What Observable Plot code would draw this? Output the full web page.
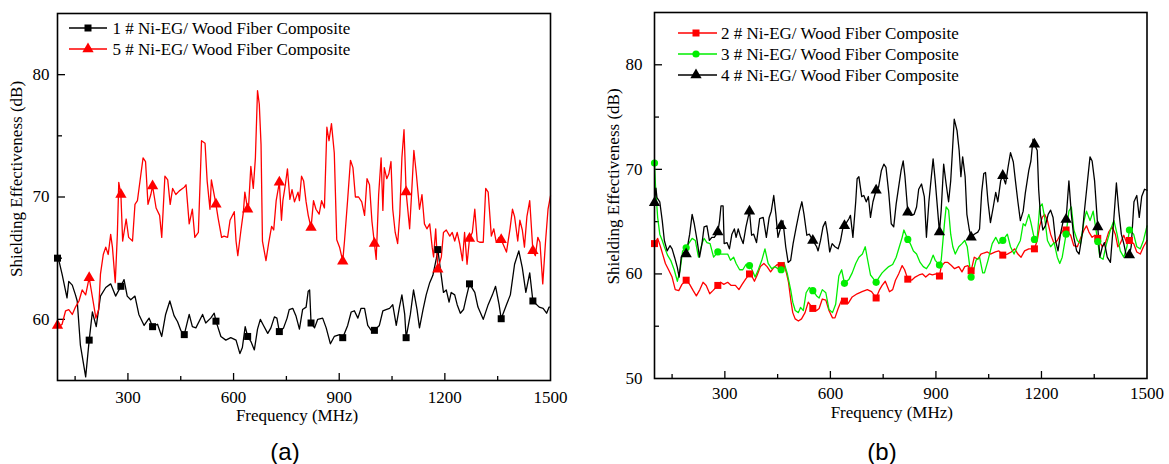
<!DOCTYPE html>
<html><head><meta charset="utf-8">
<script src="https://cdn.jsdelivr.net/npm/d3@7"></script>
<script src="https://cdn.jsdelivr.net/npm/@observablehq/plot@0.6"></script>
<style>
body{margin:0;background:#fff;}
#wrap{position:relative;width:1169px;height:464px;overflow:hidden;background:#fff;font-family:"Liberation Serif","Times New Roman",serif;}
.panel{position:absolute;top:0;}
.panel svg, .panel text, #overlay text.serif{font-family:"Liberation Serif","Times New Roman",serif !important;}
#overlay{position:absolute;left:0;top:0;pointer-events:none;}
</style></head><body><div id="wrap"></div>
<script>
// ---------- data ----------
const markerFreq = [100,190,280,370,460,550,640,730,820,910,1000,1090,1180,1270,1360,1450];
const xTickLabels = [300,600,900,1200,1500];
const xMinorTicks = [150,450,750,1050,1350];
const seriesNames = ["1 # Ni-EG/ Wood Fiber Composite","5 # Ni-EG/ Wood Fiber Composite",
  "2 # Ni-EG/ Wood Fiber Composite","3 # Ni-EG/ Wood Fiber Composite","4 # Ni-EG/ Wood Fiber Composite"];

// sample 1 (panel a, black squares): [frequency MHz, SE dB]
const sample1 = [[100,65.0],[104,64.8],[113,63.7],[127,61.75],[132,63.1],[142,62.8],[151,62.0],[156,61.5],[165,57.9],[180,55.3],[190,58.3],[199,60.6],[210,59.4],[222,61.9],[237,62.6],[251,62.9],[265,61.9],[280,62.7],[289,63.25],[298,61.9],[308,61.6],[320,61.9],[331,60.4],[346,59.5],[360,60.1],[370,59.4],[384,59.6],[396,58.6],[407,60.4],[419,61.5],[431,60.3],[441,59.8],[450,59.1],[460,58.75],[474,60.4],[483,59.4],[493,59.3],[512,60.4],[521,59.7],[535,60.1],[545,60.5],[550,59.85],[564,58.6],[578,58.3],[592,58.5],[607,58.3],[618,57.2],[625,57.7],[633,59.4],[640,58.6],[649,58.2],[659,57.5],[668,59.2],[676,60.0],[685,59.5],[697,58.85],[706,59.3],[716,60.2],[723,60.1],[730,59.0],[742,59.3],[752,60.1],[758,60.8],[768,60.9],[777,60.3],[787,59.2],[796,60.8],[806,61.0],[812,62.3],[816,62.4],[820,59.7],[830,59.3],[839,60.0],[853,60.1],[863,59.3],[875,58.0],[886,58.6],[901,58.75],[910,58.5],[924,59.5],[934,60.6],[943,60.7],[953,60.1],[962,60.9],[972,60.9],[981,59.5],[991,59.1],[1000,59.1],[1014,59.5],[1024,60.7],[1033,60.8],[1043,60.9],[1052,61.2],[1062,59.5],[1071,61.0],[1078,62.0],[1086,60.4],[1090,58.5],[1102,60.4],[1111,62.4],[1121,60.8],[1128,59.3],[1138,60.8],[1147,62.0],[1157,63.0],[1166,63.6],[1176,65.0],[1180,65.7],[1196,62.2],[1204,62.4],[1212,61.4],[1218,62.2],[1228,62.0],[1235,61.2],[1244,60.5],[1253,60.8],[1260,61.7],[1270,62.9],[1285,62.2],[1294,61.0],[1309,60.0],[1323,61.2],[1335,62.0],[1344,62.7],[1354,61.2],[1360,60.05],[1375,61.2],[1386,62.0],[1398,64.5],[1410,65.6],[1420,64.2],[1430,62.2],[1441,63.8],[1450,61.5],[1468,61.0],[1479,60.9],[1489,60.5],[1496,61.0],[1500,61.0]];

// sample 5 (panel a, red triangles)
const sample5 = [[100,59.5],[104,59.4],[113,59.6],[123,60.7],[132,60.8],[142,60.4],[151,61.0],[161,61.5],[170,62.4],[180,62.0],[190,63.4],[201,61.5],[209,60.1],[217,60.8],[222,63.7],[230,65.3],[237,65.9],[244,65.3],[251,66.95],[256,65.9],[264,63.0],[270,66.95],[274,71.2],[280,70.2],[285,66.4],[295,68.2],[302,66.7],[313,66.4],[320,69.4],[327,69.7],[337,71.9],[343,73.2],[350,72.9],[357,69.4],[365,70.2],[370,70.9],[380,69.1],[390,68.5],[396,66.7],[405,71.7],[413,71.4],[420,69.4],[427,70.7],[436,70.2],[446,70.5],[455,70.7],[460,70.8],[465,71.0],[474,67.8],[483,69.0],[490,66.7],[500,67.1],[509,74.6],[519,74.4],[525,71.3],[533,69.0],[537,71.4],[550,69.4],[556,68.3],[566,66.7],[573,66.8],[583,66.7],[590,68.1],[602,68.8],[607,66.4],[612,65.2],[621,67.3],[628,68.8],[632,70.4],[640,69.0],[643,69.4],[649,72.5],[656,70.7],[662,73.2],[668,78.7],[673,77.6],[678,74.3],[682,66.4],[692,64.8],[700,66.3],[708,67.6],[714,67.3],[721,69.7],[730,71.2],[736,68.1],[740,69.7],[747,71.0],[753,72.3],[760,69.8],[766,70.6],[773,69.6],[783,70.4],[787,69.7],[793,71.7],[799,71.3],[806,69.6],[812,68.5],[820,67.5],[827,69.7],[834,69.0],[843,68.6],[850,69.7],[858,69.1],[865,75.7],[871,74.6],[878,76.0],[886,73.6],[893,66.5],[901,65.9],[910,64.75],[915,66.4],[924,69.8],[932,73.0],[939,72.4],[946,70.0],[955,70.0],[964,69.6],[972,68.5],[979,71.5],[986,71.0],[993,68.0],[1000,66.2],[1005,64.9],[1012,70.2],[1019,73.2],[1024,68.9],[1028,72.4],[1035,71.5],[1041,71.9],[1047,72.9],[1052,69.0],[1059,67.1],[1066,66.2],[1072,68.6],[1078,73.2],[1084,75.5],[1087,73.0],[1090,70.4],[1100,67.4],[1106,70.5],[1112,73.8],[1119,71.9],[1128,69.0],[1135,70.2],[1142,67.8],[1149,67.4],[1157,67.8],[1164,65.9],[1168,65.1],[1174,67.4],[1180,64.1],[1190,65.1],[1196,67.1],[1204,67.3],[1214,66.8],[1221,67.1],[1228,66.4],[1235,67.1],[1242,66.2],[1250,64.8],[1256,67.1],[1263,64.5],[1270,66.6],[1278,67.1],[1285,69.0],[1292,66.4],[1299,66.3],[1309,66.3],[1316,70.7],[1323,70.4],[1332,66.8],[1339,67.4],[1346,66.3],[1354,66.7],[1360,66.5],[1375,65.5],[1385,67.4],[1392,69.0],[1398,68.4],[1407,66.4],[1413,68.1],[1420,67.3],[1426,65.9],[1433,68.4],[1441,69.7],[1450,65.6],[1457,65.2],[1464,66.7],[1470,66.3],[1478,62.9],[1486,66.4],[1493,69.0],[1500,70.1]];

// sample 2 (panel b, red squares)
const sample2 = [[100,62.9],[109,63.4],[117,62.6],[124,61.8],[131,61.0],[140,60.4],[150,59.7],[159,58.5],[169,58.4],[178,59.0],[190,59.4],[200,59.0],[210,58.4],[219,57.9],[229,58.5],[238,59.2],[247,58.9],[257,58.1],[266,58.4],[280,58.9],[288,59.2],[297,59.0],[308,59.2],[318,58.9],[330,58.9],[340,58.5],[349,59.0],[359,59.5],[370,60.0],[378,59.7],[384,59.3],[392,59.9],[401,60.7],[411,61.0],[420,60.7],[430,60.2],[439,60.6],[449,60.9],[460,60.8],[468,60.9],[475,60.1],[481,59.2],[487,57.6],[493,56.3],[500,55.7],[509,55.5],[518,55.7],[528,56.3],[537,57.3],[550,56.7],[561,56.5],[568,56.7],[577,57.6],[587,57.5],[596,56.5],[606,55.8],[613,55.8],[622,56.7],[632,57.5],[640,57.4],[651,57.2],[662,57.8],[676,58.1],[690,58.3],[705,58.5],[717,58.3],[730,57.7],[740,58.5],[747,58.9],[756,59.3],[768,58.3],[777,58.5],[785,59.4],[794,60.0],[804,60.8],[811,60.4],[820,59.5],[831,59.4],[841,59.7],[852,59.9],[862,60.0],[871,59.7],[881,60.0],[890,59.9],[900,60.0],[910,59.8],[915,60.7],[925,61.1],[934,61.1],[944,60.8],[953,60.5],[965,60.7],[974,60.2],[982,60.7],[991,60.8],[1000,60.3],[1009,61.6],[1019,61.4],[1028,61.9],[1036,62.0],[1046,62.1],[1055,61.9],[1069,62.1],[1079,62.2],[1090,61.8],[1103,61.9],[1114,62.1],[1124,62.4],[1133,61.9],[1142,61.6],[1152,62.2],[1164,62.4],[1180,62.4],[1188,63.2],[1195,64.6],[1202,65.4],[1209,65.7],[1217,65.1],[1226,63.8],[1236,62.9],[1245,63.2],[1254,63.8],[1262,64.2],[1270,64.2],[1283,63.7],[1292,62.7],[1302,62.6],[1311,63.4],[1321,64.2],[1328,64.6],[1335,64.0],[1344,63.5],[1352,63.7],[1360,63.4],[1373,62.6],[1382,63.0],[1391,64.0],[1401,64.5],[1410,63.8],[1417,62.6],[1424,62.9],[1434,63.7],[1443,62.9],[1450,63.2],[1462,62.9],[1471,62.1],[1481,61.9],[1490,62.6],[1500,63.2]];

// sample 3 (panel b, green circles)
const sample3 = [[100,70.6],[103,68.3],[109,65.4],[115,63.8],[122,63.2],[128,62.6],[137,61.8],[146,61.3],[156,60.4],[165,59.3],[173,60.4],[180,62.2],[190,62.5],[197,62.9],[207,63.4],[216,63.2],[225,61.6],[235,62.9],[241,63.4],[249,63.0],[258,62.9],[268,61.6],[280,62.1],[289,61.9],[298,61.9],[308,61.9],[316,61.3],[325,61.6],[332,61.0],[342,60.4],[351,60.4],[360,60.9],[370,60.8],[376,60.5],[386,59.7],[395,60.4],[405,61.3],[414,62.4],[423,61.0],[433,60.5],[442,60.7],[451,60.5],[460,60.4],[468,61.1],[477,60.1],[487,58.5],[493,57.3],[500,56.5],[509,56.3],[515,56.8],[523,56.5],[531,58.2],[540,58.7],[550,58.4],[561,57.9],[568,57.7],[577,58.5],[587,58.2],[596,56.6],[606,56.3],[615,57.1],[624,59.8],[632,60.4],[640,59.1],[653,59.5],[662,60.1],[672,61.0],[681,61.6],[691,61.9],[699,62.6],[705,61.5],[714,59.9],[721,59.6],[730,59.2],[737,59.6],[747,60.1],[756,60.4],[766,60.7],[777,60.9],[787,61.6],[796,62.6],[804,63.5],[809,64.2],[820,63.3],[827,62.9],[836,62.2],[845,61.9],[855,61.1],[864,60.7],[873,60.5],[883,61.0],[892,61.8],[898,61.3],[910,60.85],[915,61.3],[920,63.2],[925,65.1],[929,66.4],[936,66.1],[942,63.8],[948,62.6],[955,61.9],[965,62.6],[974,62.9],[982,63.2],[989,62.6],[1000,59.7],[1005,60.1],[1014,61.3],[1024,61.6],[1033,60.1],[1038,60.1],[1048,61.3],[1060,62.9],[1070,63.5],[1079,62.9],[1090,63.2],[1103,63.8],[1112,62.6],[1122,61.9],[1131,62.6],[1140,63.2],[1148,64.8],[1154,64.6],[1164,65.7],[1170,64.9],[1180,63.3],[1188,63.5],[1195,66.4],[1202,66.7],[1209,65.4],[1217,63.2],[1226,62.6],[1236,63.0],[1245,61.6],[1252,61.0],[1259,61.6],[1270,63.8],[1278,66.0],[1285,66.4],[1292,64.2],[1302,63.2],[1311,62.9],[1321,65.1],[1328,66.0],[1338,65.1],[1347,66.0],[1360,63.1],[1366,61.6],[1375,61.4],[1385,62.9],[1396,64.2],[1406,65.1],[1415,63.8],[1424,62.2],[1434,61.6],[1443,62.6],[1450,64.2],[1462,63.8],[1471,62.6],[1481,62.4],[1490,63.2],[1500,64.6]];

// sample 4 (panel b, black triangles)
const sample4 = [[100,66.8],[104,68.2],[107,67.3],[115,66.9],[122,65.1],[128,63.2],[136,62.2],[144,62.7],[150,62.4],[157,61.6],[165,60.6],[170,59.7],[176,61.6],[184,62.1],[190,61.9],[200,63.8],[207,65.7],[213,64.8],[221,63.2],[228,61.6],[235,62.9],[241,64.5],[249,64.6],[256,63.2],[263,63.5],[270,63.5],[280,64.0],[285,65.1],[289,66.5],[295,66.5],[298,62.9],[306,63.0],[313,62.4],[320,63.8],[327,64.3],[332,63.5],[338,64.3],[345,63.5],[352,62.9],[360,64.5],[370,66.0],[376,63.7],[382,63.8],[390,63.0],[399,65.3],[409,65.4],[418,63.5],[426,65.4],[432,66.0],[439,67.5],[445,65.7],[451,63.5],[460,64.6],[465,65.1],[473,62.6],[480,61.1],[487,61.3],[494,62.9],[503,64.5],[512,66.0],[519,66.9],[525,65.7],[533,63.7],[540,63.8],[550,63.2],[561,62.6],[565,62.2],[572,63.2],[579,64.5],[586,65.0],[592,63.8],[598,62.1],[605,62.9],[613,62.6],[622,62.4],[629,63.2],[636,64.5],[640,64.6],[653,65.3],[657,65.6],[664,63.5],[672,66.9],[676,69.1],[681,69.3],[689,67.4],[695,67.5],[702,66.9],[708,67.4],[714,65.4],[721,66.9],[730,68.0],[737,68.3],[745,69.9],[752,70.5],[758,70.2],[766,67.7],[773,64.8],[780,64.5],[787,66.7],[794,68.3],[801,69.9],[807,70.8],[812,69.3],[820,65.9],[829,65.6],[838,65.7],[845,66.4],[851,68.1],[859,68.6],[867,67.4],[873,63.5],[880,66.9],[887,69.3],[892,71.0],[898,68.9],[910,64.0],[915,66.1],[922,70.5],[929,68.6],[936,66.9],[942,68.9],[947,71.8],[952,74.8],[960,73.7],[966,71.8],[971,69.3],[976,71.2],[983,69.3],[988,65.7],[995,64.2],[1000,63.5],[1009,63.8],[1019,64.0],[1024,64.3],[1030,67.8],[1036,69.6],[1041,69.7],[1048,66.9],[1055,64.9],[1063,66.4],[1070,67.8],[1076,66.9],[1084,68.9],[1090,69.4],[1098,68.6],[1105,70.2],[1112,71.6],[1120,70.7],[1126,68.9],[1133,66.9],[1140,65.1],[1148,66.0],[1154,67.7],[1164,69.9],[1170,70.8],[1176,72.9],[1180,72.4],[1188,71.8],[1192,68.1],[1197,65.7],[1204,64.2],[1211,64.6],[1219,65.7],[1226,66.1],[1233,65.4],[1240,63.2],[1247,62.2],[1254,63.8],[1262,65.1],[1270,65.2],[1278,68.9],[1285,65.7],[1292,63.5],[1300,62.2],[1307,61.9],[1316,63.8],[1322,66.0],[1330,68.6],[1338,71.2],[1344,70.8],[1351,68.9],[1360,64.5],[1366,61.6],[1373,62.6],[1379,63.0],[1387,61.6],[1396,61.1],[1406,65.4],[1413,68.7],[1420,66.0],[1427,63.8],[1434,62.9],[1442,61.6],[1450,61.8],[1455,62.6],[1463,66.9],[1471,67.5],[1478,65.4],[1485,67.4],[1493,68.1],[1500,68.0]];

const GREEN = "#00ee00";
const FONT = '"Liberation Serif", "Times New Roman", serif';

function panel(cfg) {
  const H = 464;
  const fw = cfg.width - cfg.ml - cfg.mr;
  const fh = H - cfg.mt - cfg.mb;
  const marks = [];
  // inward ticks
  marks.push(Plot.tickX(xTickLabels.filter(d => d < 1500), {x: d => d, insetTop: fh - 7, stroke: "black", strokeWidth: 1.3}));
  marks.push(Plot.tickX(xMinorTicks, {x: d => d, insetTop: fh - 4, stroke: "black", strokeWidth: 1.3}));
  marks.push(Plot.tickY(cfg.yMajor.filter(d => d > cfg.yDomain[0]), {y: d => d, insetRight: fw - 8, stroke: "black", strokeWidth: 1.3}));
  marks.push(Plot.tickY(cfg.yMinor, {y: d => d, insetRight: fw - 5, stroke: "black", strokeWidth: 1.3}));
  const tables = cfg.series.map(s => s.pts.map(([f, v]) => ({f, v})));
  cfg.series.forEach((s, i) => {
    marks.push(Plot.line(tables[i], {x: "f", y: "v", stroke: s.color, strokeWidth: 1.3}));
  });
  cfg.series.forEach((s, i) => {
    const skip = s.skip || [];
    const m = tables[i].filter(d => markerFreq.includes(d.f) && !skip.includes(d.f));
    marks.push(Plot.dot(m, {x: "f", y: "v", symbol: s.symbol, r: s.r, fill: s.color, stroke: "none"}));
  });
  marks.push(Plot.frame({stroke: "black", strokeWidth: 1.6}));
  marks.push(Plot.axisX(xTickLabels, {tickSize: 0, tickPadding: cfg.xPad, label: null, fontSize: 17, fontFamily: FONT, tickFormat: d => String(d)}));
  marks.push(Plot.axisY(cfg.yMajor, {tickSize: 0, tickPadding: cfg.yPad, label: null, fontSize: 17, fontFamily: FONT, tickFormat: d => String(d)}));
  marks.push(Plot.text(["Frequency (MHz)"], {text: d => d, frameAnchor: "bottom", dx: cfg.xtDx, dy: cfg.xtDy, fontSize: 17, fontFamily: FONT}));
  marks.push(Plot.text(["Shielding Effectiveness (dB)"], {text: d => d, frameAnchor: "left", textAnchor: "middle", dx: -41, dy: cfg.ytDy, rotate: -90, fontSize: 17, fontFamily: FONT}));
  return Plot.plot({
    width: cfg.width, height: H,
    marginLeft: cfg.ml, marginRight: cfg.mr, marginTop: cfg.mt, marginBottom: cfg.mb,
    x: {domain: [100, 1500]},
    y: {domain: cfg.yDomain},
    style: {fontFamily: FONT, fontSize: "17px", color: "black", background: "transparent", overflow: "visible"},
    marks
  });
}

const wrap = document.getElementById("wrap");

const seriesA = [
  {pts: sample1, color: "black", symbol: "square", r: 3.95, name: seriesNames[0]},
  {pts: sample5, color: "#ff0000", symbol: "triangle", r: 4.2, name: seriesNames[1], skip: [460]}
];
const seriesB = [
  {pts: sample2, color: "#ff0000", symbol: "square", r: 3.95, name: seriesNames[2]},
  {pts: sample3, color: GREEN, symbol: "circle", r: 3.6, name: seriesNames[3]},
  {pts: sample4, color: "black", symbol: "triangle", r: 4.2, name: seriesNames[4]}
];

const pa = panel({series: seriesA, width: 585, ml: 57, mr: 35, mt: 13, mb: 84,
  yDomain: [55, 85], yMajor: [60, 70, 80], yMinor: [65, 75], xPad: 10, yPad: 8, xtDx: -7, xtDy: 40, ytDy: -18});
const pb = panel({series: seriesB, width: 579, ml: 64, mr: 22.5, mt: 12, mb: 86,
  yDomain: [50, 85], yMajor: [50, 60, 70, 80], yMinor: [55, 65, 75], xPad: 8, yPad: 12, xtDx: -9, xtDy: 39, ytDy: -9});

const da = document.createElement("div"); da.className = "panel"; da.style.left = "0px"; da.appendChild(pa); wrap.appendChild(da);
const db = document.createElement("div"); db.className = "panel"; db.style.left = "590px"; db.appendChild(pb); wrap.appendChild(db);

// overlay: legends and panel tags
const ov = d3.select(wrap).append("svg").attr("id", "overlay").attr("width", 1169).attr("height", 464);
function legend(items, x0, x1, xm, xt, ys) {
  items.forEach((s, i) => {
    const y = ys[i];
    ov.append("line").attr("x1", x0).attr("x2", x1).attr("y1", y).attr("y2", y)
      .attr("stroke", s.color).attr("stroke-width", 1.5);
    const symType = s.symbol === "square" ? d3.symbolSquare : s.symbol === "triangle" ? d3.symbolTriangle : d3.symbolCircle;
    ov.append("path").attr("d", d3.symbol(symType, Math.PI * s.r * s.r)())
      .attr("transform", `translate(${xm},${y})`).attr("fill", s.color);
    ov.append("text").attr("class", "serif").attr("x", xt).attr("y", y).attr("dy", "0.35em")
      .style("font-size", "17px").attr("fill", "black").text(s.name);
  });
}
legend(seriesA, 69, 107, 88, 112.5, [28, 49]);
legend(seriesB, 678, 717, 696, 721, [33, 54, 75]);

ov.append("text").attr("x", 285).attr("y", 452).attr("dy", "0.35em").attr("text-anchor", "middle")
  .style("font-family", '"Liberation Sans", Arial, sans-serif').style("font-size", "24px").text("(a)");
ov.append("text").attr("x", 882).attr("y", 452).attr("dy", "0.35em").attr("text-anchor", "middle")
  .style("font-family", '"Liberation Sans", Arial, sans-serif').style("font-size", "24px").text("(b)");
</script>
</body></html>
